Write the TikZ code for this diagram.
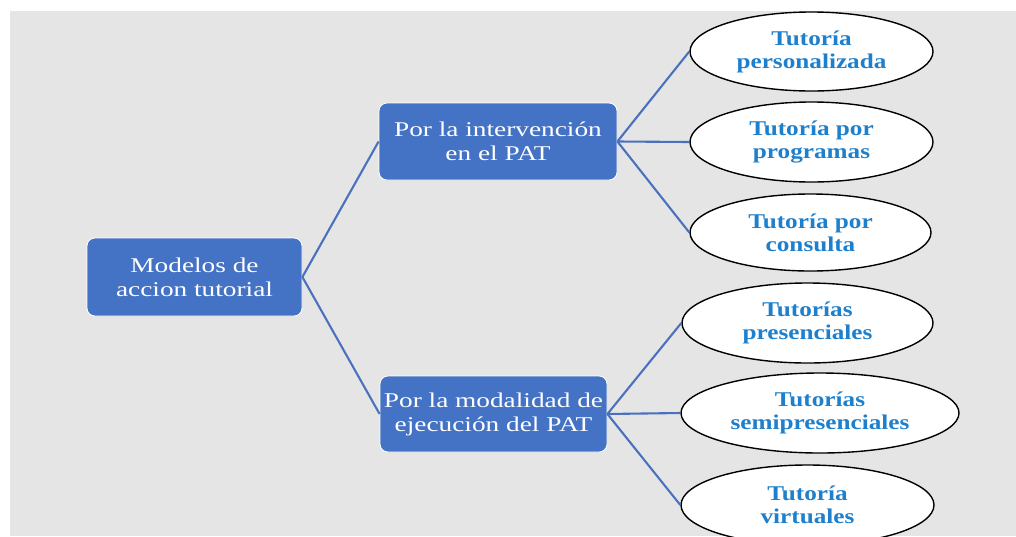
\documentclass[tikz,border=0pt]{standalone}
\usepackage{fontspec}
\usetikzlibrary{shapes.geometric}
\newfontfamily\boxfont{Liberation Serif}[FakeStretch=1.3]
\newfontfamily\ellfont{Liberation Serif}[FakeStretch=1.2]
\definecolor{bgray}{HTML}{E5E5E5}
\definecolor{boxblue}{HTML}{4472C4}
\definecolor{linkblue}{HTML}{4A70BE}
\definecolor{txtblue}{HTML}{1E80CC}
\tikzset{
  bluebox/.style={rectangle, rounded corners=8pt, fill=boxblue, draw=white, line width=0.8pt,
    text=white, align=center, inner sep=0pt,
    font=\boxfont\fontsize{21}{24}\selectfont},
  ellnode/.style={ellipse, fill=white, draw=black, line width=1.4pt, inner sep=0pt,
    text=txtblue, align=center, font=\ellfont\bfseries\fontsize{21}{23}\selectfont},
  link/.style={draw=linkblue, line width=2.1pt}
}
\begin{document}
\begin{tikzpicture}[x=1pt,y=-1pt]
\useasboundingbox (0,0) rectangle (1016,536);
\fill[bgray] (10,11) rectangle (1016,536);
\begin{scope}
\clip (10,11) rectangle (1016,536);
\node[bluebox, minimum width=215pt, minimum height=78pt] (root) at (194.5,277) {Modelos de\\accion tutorial};
\node[bluebox, minimum width=238pt, minimum height=77pt] (up) at (498,141.5) {Por la intervención\\en el PAT};
\node[bluebox, minimum width=227pt, minimum height=76pt] (low) at (493.5,414) {Por la modalidad de\\ejecución del PAT};
\node[ellnode, minimum width=243pt, minimum height=79pt] (e1) at (811.5,51.5) {Tutoría\\personalizada};
\node[ellnode, minimum width=243pt, minimum height=80pt] (e2) at (811.5,142) {Tutoría por\\programas};
\node[ellnode, minimum width=241pt, minimum height=77pt] (e3) at (810.5,232.5) {Tutoría por\\consulta};
\node[ellnode, minimum width=251pt, minimum height=80pt] (e4) at (807.5,323) {Tutorías\\presenciales};
\node[ellnode, minimum width=278pt, minimum height=80pt] (e5) at (820,413) {Tutorías\\semipresenciales};
\node[ellnode, minimum width=253pt, minimum height=80pt] (e6) at (807.5,505) {Tutoría\\virtuales};
\draw[link] (root.east) -- (up.west);
\draw[link] (root.east) -- (low.west);
\draw[link] (up.east) -- (e1.west);
\draw[link] (up.east) -- (e2.west);
\draw[link] (up.east) -- (e3.west);
\draw[link] (low.east) -- (e4.west);
\draw[link] (low.east) -- (e5.west);
\draw[link] (low.east) -- (e6.west);
\end{scope}
\end{tikzpicture}
\end{document}
